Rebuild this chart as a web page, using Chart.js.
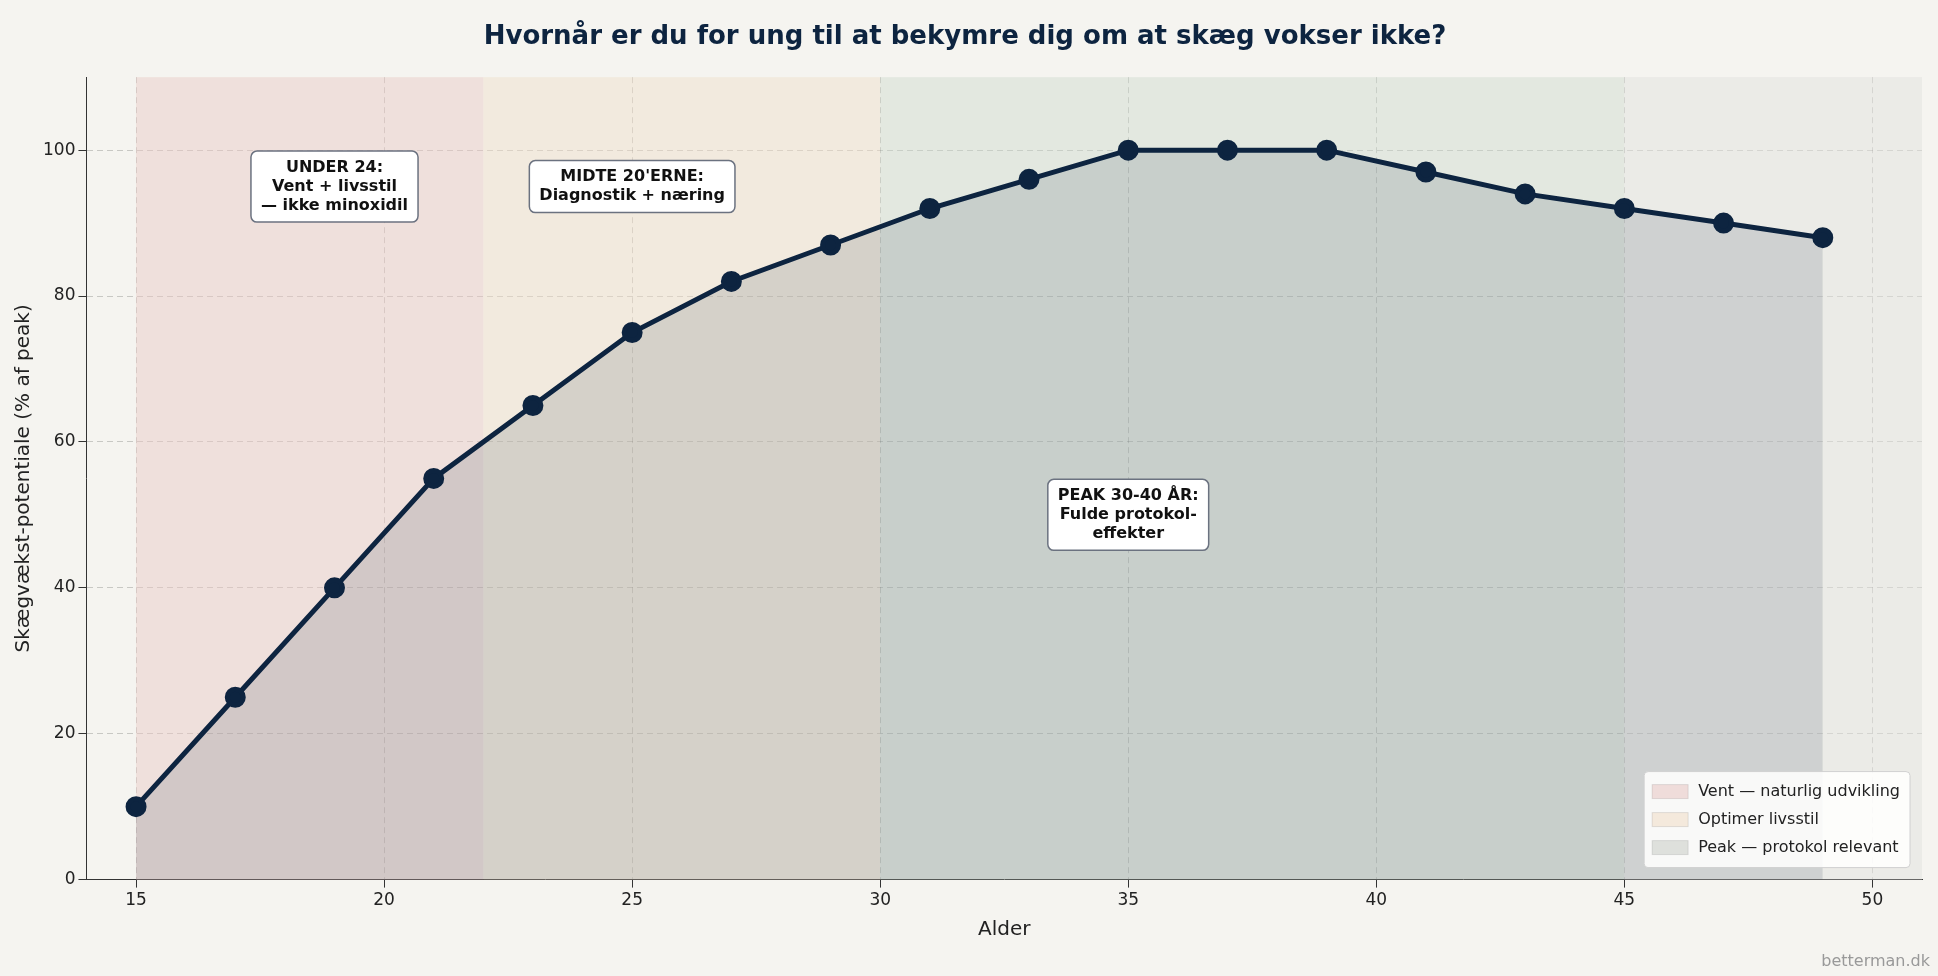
<!DOCTYPE html>
<html>
<head>
<meta charset="utf-8">
<script src="https://cdn.jsdelivr.net/npm/chart.js@4/dist/chart.umd.min.js"></script>
<style>
  body { margin: 0; background: #f5f4f0; }
  #wrap { width: 1938px; height: 976px; position: relative; }
</style>
</head>
<body>
<div id="wrap"><canvas id="beard"></canvas></div>
<script>
// Data
const ages = [15, 17, 19, 21, 23, 25, 27, 29, 31, 33, 35, 37, 39, 41, 43, 45, 47, 49];
const potential = [10, 25, 40, 55, 65, 75, 82, 87, 92, 96, 100, 100, 100, 97, 94, 92, 90, 88];
const yTicks = [0, 20, 40, 60, 80, 100];
const xTicks = [15, 20, 25, 30, 35, 40, 45, 50];

// Phase bands [from, to, colour]
const bandFrom = [15, 22, 30, 45];
const bandTo = [22, 30, 45, 51];
const bandColors = ["rgba(232,200,196,0.45)", "rgba(240,222,200,0.45)", "rgba(200,215,200,0.4)", "rgba(225,225,222,0.5)"];

const legendLabels = ["Vent — naturlig udvikling", "Optimer livsstil", "Peak — protokol relevant"];
const legendColors = ["rgba(232,200,196,0.6)", "rgba(240,222,200,0.6)", "rgba(215,218,212,0.8)"];

const notes = [
  { x: 19, y: 95, lines: ["UNDER 24:", "Vent + livsstil", "— ikke minoxidil"] },
  { x: 25, y: 95, lines: ["MIDTE 20'ERNE:", "Diagnostik + næring"] },
  { x: 35, y: 50, lines: ["PEAK 30-40 ÅR:", "Fulde protokol-", "effekter"] }
];

const navy = "#0d2440";

function roundRect(ctx, x, y, w, h, r) {
  ctx.beginPath();
  ctx.moveTo(x + r, y);
  ctx.arcTo(x + w, y, x + w, y + h, r);
  ctx.arcTo(x + w, y + h, x, y + h, r);
  ctx.arcTo(x, y + h, x, y, r);
  ctx.arcTo(x, y, x + w, y, r);
  ctx.closePath();
}

// Background bands behind the data
const bandsPlugin = {
  id: "bands",
  beforeDatasetsDraw(chart) {
    const { ctx, chartArea, scales } = chart;
    ctx.save();
    bandFrom.forEach((from, i) => {
      const x1 = scales.x.getPixelForValue(from);
      const x2 = Math.min(scales.x.getPixelForValue(bandTo[i]), chartArea.right);
      ctx.fillStyle = bandColors[i];
      ctx.fillRect(x1, chartArea.top, x2 - x1, chartArea.bottom - chartArea.top);
    });
    ctx.restore();
  },
  afterDatasetsDraw(chart) {
    const { ctx, chartArea, scales } = chart;
    ctx.save();
    // annotation boxes
    ctx.font = "bold 16px 'DejaVu Sans'";
    ctx.textAlign = "center";
    ctx.textBaseline = "middle";
    notes.forEach(n => {
      const cx = scales.x.getPixelForValue(n.x);
      const cy = scales.y.getPixelForValue(n.y);
      const lh = 19;
      const w = Math.max(...n.lines.map(l => ctx.measureText(l).width)) + 20;
      const h = n.lines.length * lh + 14;
      roundRect(ctx, cx - w / 2, cy - h / 2, w, h, 6);
      ctx.fillStyle = "#ffffff";
      ctx.fill();
      ctx.strokeStyle = "#6b7280";
      ctx.lineWidth = 1.5;
      ctx.stroke();
      ctx.fillStyle = "#111111";
      n.lines.forEach((l, i) => ctx.fillText(l, cx, cy - (n.lines.length - 1) * lh / 2 + i * lh));
    });

    // legend bottom right
    ctx.font = "16px 'DejaVu Sans'";
    ctx.textAlign = "left";
    const lw = Math.max(...legendLabels.map(l => ctx.measureText(l).width)) + 64;
    const lh = 28;
    const boxH = legendLabels.length * lh + 12;
    const lx = chartArea.right - lw - 12;
    const ly = chartArea.bottom - boxH - 12;
    roundRect(ctx, lx, ly, lw, boxH, 4);
    ctx.fillStyle = "rgba(255,255,255,0.85)";
    ctx.fill();
    ctx.strokeStyle = "#d0d0d0";
    ctx.lineWidth = 1;
    ctx.stroke();
    legendLabels.forEach((l, i) => {
      const yy = ly + 6 + lh * i + lh / 2;
      ctx.fillStyle = legendColors[i];
      ctx.fillRect(lx + 8, yy - 7, 36, 14);
      ctx.strokeStyle = "rgba(0,0,0,0.1)";
      ctx.strokeRect(lx + 8, yy - 7, 36, 14);
      ctx.fillStyle = "#222";
      ctx.fillText(l, lx + 54, yy);
    });

    // watermark
    ctx.font = "16px 'DejaVu Sans'";
    ctx.textAlign = "right";
    ctx.fillStyle = "#999";
    ctx.fillText("betterman.dk", chart.width - 8, chart.height - 14);
    ctx.restore();
  }
};

new Chart(document.getElementById("beard"), {
  type: "line",
  data: {
    datasets: [{
      data: ages.map((a, i) => ({ x: a, y: potential[i] })),
      borderColor: navy,
      borderWidth: 5,
      backgroundColor: "rgba(13,36,64,0.13)",
      fill: "origin",
      pointRadius: 8,
      pointBackgroundColor: navy,
      pointBorderColor: navy,
      tension: 0
    }]
  },
  options: {
    responsive: true,
    maintainAspectRatio: false,
    animation: false,
    layout: { padding: { left: 8, right: 16, top: 8, bottom: 30 } },
    plugins: {
      legend: { display: false },
      tooltip: { enabled: false },
      title: {
        display: true,
        text: "Hvornår er du for ung til at bekymre dig om at skæg vokser ikke?",
        color: navy,
        font: { family: "DejaVu Sans", size: 26, weight: "bold" },
        padding: { top: 14, bottom: 24 }
      }
    },
    scales: {
      x: {
        type: "linear",
        min: 14,
        max: 51,
        afterBuildTicks: axis => { axis.ticks = xTicks.map(v => ({ value: v })); },
        grid: { color: "rgba(0,0,0,0.18)", borderDash: [6, 4], drawTicks: true, tickColor: "#333" },
        border: { display: true, color: "#333", dash: [6, 4] },
        ticks: { color: "#222", font: { family: "DejaVu Sans", size: 17 } },
        title: { display: true, text: "Alder", color: "#222", font: { family: "DejaVu Sans", size: 20 } }
      },
      y: {
        min: 0,
        max: 110,
        afterBuildTicks: axis => { axis.ticks = yTicks.map(v => ({ value: v })); },
        grid: { color: "rgba(0,0,0,0.18)", tickColor: "#333" },
        border: { display: true, color: "#333", dash: [6, 4] },
        ticks: { color: "#222", font: { family: "DejaVu Sans", size: 17 } },
        title: { display: true, text: "Skægvækst-potentiale (% af peak)", color: "#222", font: { family: "DejaVu Sans", size: 20 } }
      }
    }
  },
  plugins: [bandsPlugin]
});
</script>
</body>
</html>
